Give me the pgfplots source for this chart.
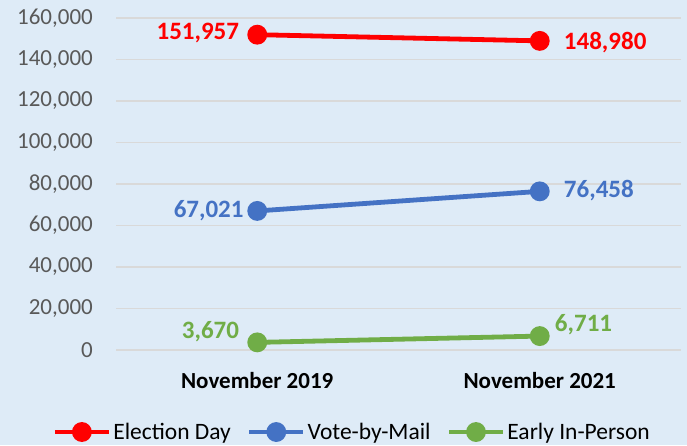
\documentclass[border=0pt]{standalone}
\usepackage{pgfplots}
\pgfplotsset{compat=1.18}
\usepackage{fontspec}
\setmainfont{Carlito}
\definecolor{bg}{HTML}{DEEBF7}
\definecolor{gridc}{HTML}{D9D9D9}
\definecolor{edred}{HTML}{FF0000}
\definecolor{vbmblue}{HTML}{4472C4}
\definecolor{eipgreen}{HTML}{70AD47}
\definecolor{ticktxt}{HTML}{595959}

\begin{document}
\begin{tikzpicture}
\fill[bg] (0,0) rectangle (687pt,445pt);
\begin{axis}[
  at={(116pt,95pt)}, anchor=south west,
  scale only axis, width=565pt, height=332pt,
  xmin=-0.5, xmax=1.5, ymin=0, ymax=160000,
  axis line style={draw=none},
  xtick={0,1}, xticklabels={November 2019, November 2021},
  ytick={0,20000,...,160000},
  major tick length=0pt,
  ymajorgrids, grid style={gridc, line width=1.4pt},
  scaled y ticks=false,
  /pgf/number format/fixed,
  /pgf/number format/1000 sep={,},
  /pgf/number format/assume math mode=true,
  yticklabel style={font=\fontsize{23}{27}\selectfont, text=ticktxt, anchor=east, inner sep=0pt, xshift=-23pt},
  xticklabel style={font=\fontsize{23}{27}\selectfont\bfseries, text=black, anchor=north, inner sep=0pt, yshift=-22pt},
  clip=false,
  legend style={at={(axis description cs:0.418,-0.247)}, anchor=center, draw=none, fill=none,
    legend columns=3, font=\fontsize{23.5}{27}\selectfont,
    nodes={inner sep=2pt},
    /tikz/every even column/.append style={column sep=14pt}},
  legend cell align=left,
  legend image code/.code={\draw[mark repeat=2,mark phase=2,#1] plot coordinates {(0pt,0pt)(27pt,0pt)(54pt,0pt)};},
  lbl/.style={forget plot, draw=none, mark=none, nodes near coords,
    every node near coord/.append style={font=\fontsize{25}{30}\selectfont\bfseries, inner sep=0pt, #1}},
]
\addplot[color=edred, line width=4.8pt, mark=*, mark size=7.5pt] coordinates {(0,151957) (1,148980)};
\addlegendentry{Election Day}
\addplot[color=vbmblue, line width=4.8pt, mark=*, mark size=7.5pt] coordinates {(0,67021) (1,76458)};
\addlegendentry{Vote-by-Mail}
\addplot[color=eipgreen, line width=4.8pt, mark=*, mark size=7.5pt] coordinates {(0,3670) (1,6711)};
\addlegendentry{Early In-Person}
% data labels
\addplot[lbl={text=edred, anchor=east, xshift=-18pt, yshift=2pt}] coordinates {(0,151957)};
\addplot[lbl={text=edred, anchor=west, xshift=24pt, yshift=-1.5pt}] coordinates {(1,148980)};
\addplot[lbl={text=vbmblue, anchor=east, xshift=-13.5pt, yshift=0.5pt}] coordinates {(0,67021)};
\addplot[lbl={text=vbmblue, anchor=west, xshift=24pt, yshift=0.5pt}] coordinates {(1,76458)};
\addplot[lbl={text=eipgreen, anchor=east, xshift=-18pt, yshift=10.5pt}] coordinates {(0,3670)};
\addplot[lbl={text=eipgreen, anchor=west, xshift=15pt, yshift=11pt}] coordinates {(1,6711)};
\end{axis}
\pgfresetboundingbox
\useasboundingbox (0,0) rectangle (687pt,445pt);
\end{tikzpicture}
\end{document}
